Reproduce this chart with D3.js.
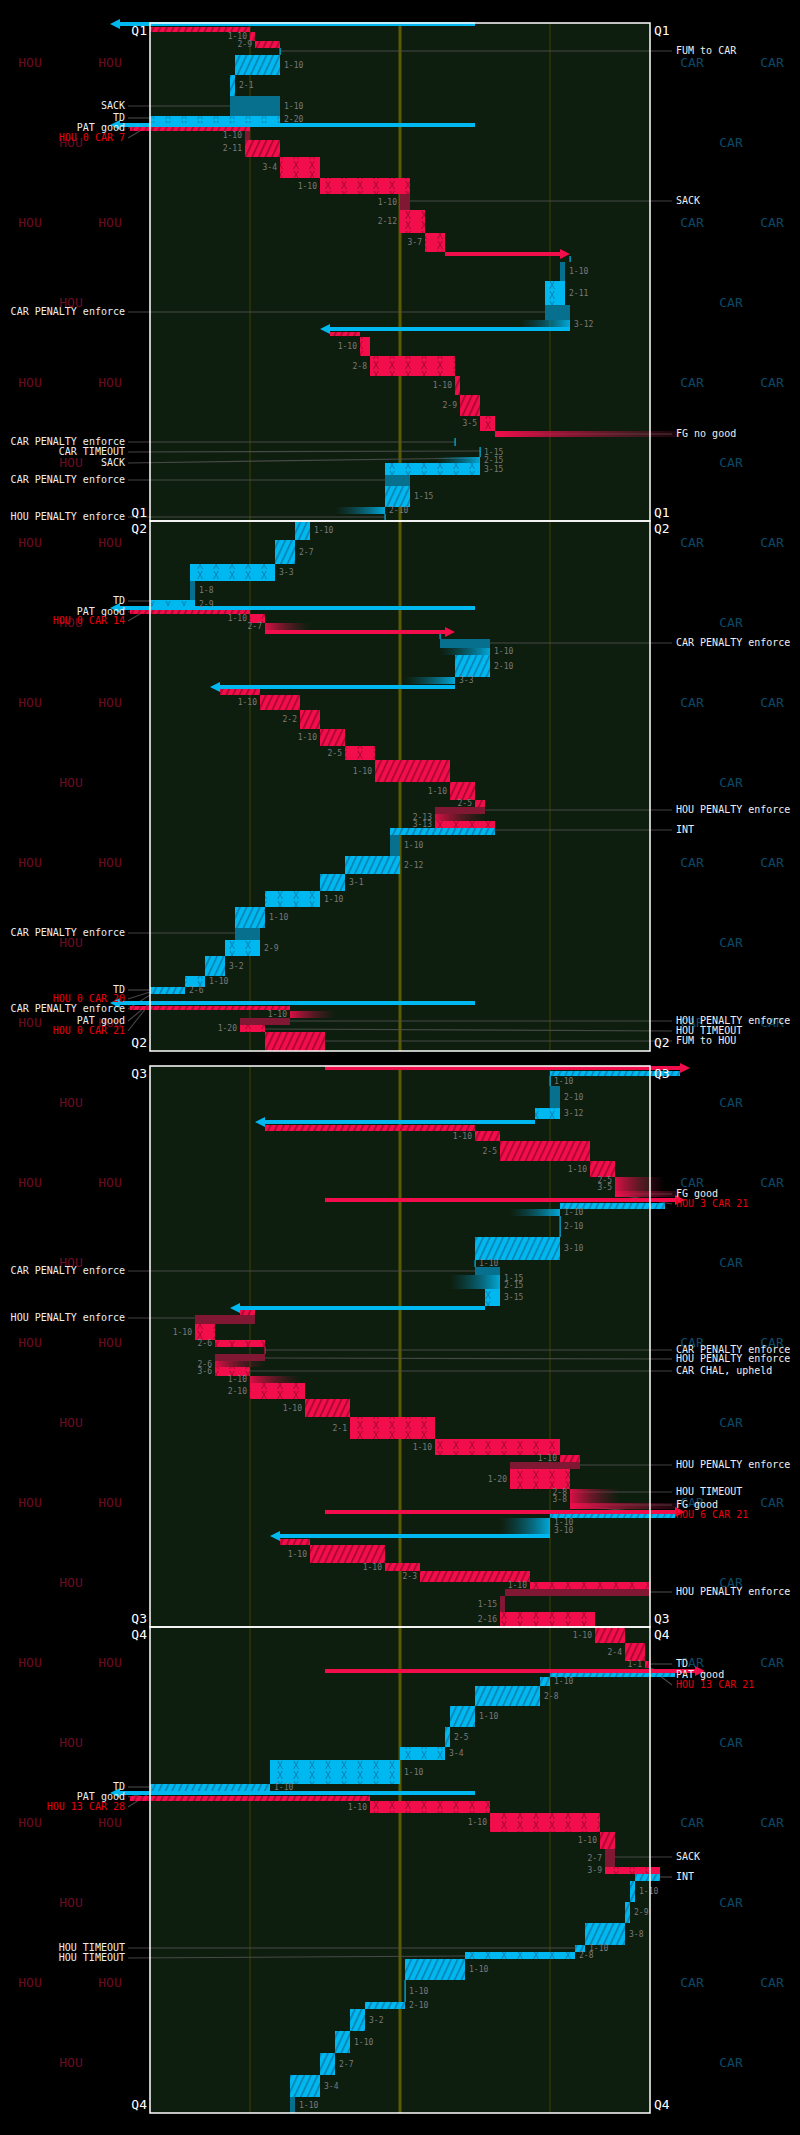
<!DOCTYPE html>
<html>
<head>
<meta charset="utf-8">
<script src="https://cdn.jsdelivr.net/npm/d3@7"></script>
<style>
  body { margin: 0; background: #000; }
  text { font-family: "DejaVu Sans Mono", monospace; }
</style>
</head>
<body>
<svg id="chart" width="800" height="2135"></svg>
<script>
// quarters: name, top, bottom (in chart time units)
const quarters = [["Q1", 23, 521], ["Q2", 521, 1051], ["Q3", 1066, 1627], ["Q4", 1627, 2113]];
const yardLines = [20, 50, 80];

// plays: team, t0, t1, from yard, to yard, kind, down label
// kinds: h run, x pass, d loss/penalty, f incomplete, l no gain, r return
const plays = [
  ["H",27,32,0,20,"r",""],["H",32,41,20,21,"h","1-10"],["H",41,48,21,26,"h","2-9"],
  ["C",48,55,26,26,"l",""],["C",55,75,26,17,"h","1-10"],["C",75,96,17,16,"h","2-1"],
  ["C",96,116,16,26,"d","1-10"],["C",116,123,26,0,"x","2-20"],
  ["H",127,131,-4,20,"r",""],["H",131,140,20,19,"d","1-10"],["H",140,157,19,26,"h","2-11"],
  ["H",157,178,26,34,"x","3-4"],["H",178,194,34,52,"x","1-10"],["H",194,210,52,50,"d","1-10"],
  ["H",210,233,50,55,"x","2-12"],["H",233,252,55,59,"x","3-7"],
  ["C",256,262,84,84,"l",""],["C",262,281,83,82,"d","1-10"],["C",281,305,83,79,"x","2-11"],
  ["C",305,320,79,84,"d",""],["C",320,329,84,74,"f","3-12"],
  ["H",332,336,36,42,"r",""],["H",337,356,42,44,"x","1-10"],["H",356,376,44,61,"x","2-8"],
  ["H",376,395,61,62,"h","1-10"],["H",395,416,62,66,"h","2-9"],["H",416,431,66,69,"x","3-5"],
  ["C",438,446,61,61,"l",""],["C",447,457,66,66,"l","1-15"],["C",457,463,66,57,"f","2-15"],
  ["C",463,475,66,47,"x","3-15"],["C",475,486,47,52,"d",""],["C",486,507,52,47,"h","1-15"],
  ["C",507,514,47,37,"f","2-10"],["C",514,521,47,47,"l",""],
  ["C",521,540,32,29,"h","1-10"],["C",540,564,29,25,"h","2-7"],["C",564,581,25,8,"x","3-3"],
  ["C",581,600,8,9,"d","1-8"],["C",600,608,9,0,"x","2-9"],
  ["H",610,614,-4,20,"r",""],["H",614,623,20,23,"x","1-10"],["H",623,630,23,32,"f","2-7"],
  ["C",632,639,58,58,"l",""],["C",639,648,58,68,"d",""],["C",648,655,68,58,"f","1-10"],
  ["C",655,677,68,61,"h","2-10"],["C",677,684,61,51,"f","3-3"],
  ["H",688,695,14,22,"r",""],["H",695,710,22,30,"h","1-10"],["H",710,729,30,34,"h","2-2"],
  ["H",729,746,34,39,"h","1-10"],["H",746,760,39,45,"x","2-5"],["H",760,782,45,60,"h","1-10"],
  ["H",782,800,60,65,"h","1-10"],["H",800,807,65,67,"h","2-5"],["H",807,814,67,57,"d",""],
  ["H",814,821,57,67,"f","2-13"],["H",821,828,57,69,"x","3-13"],
  ["C",828,835,69,48,"r",""],["C",835,856,48,50,"d","1-10"],["C",856,874,50,39,"h","2-12"],
  ["C",874,891,39,34,"h","3-1"],["C",891,907,34,23,"x","1-10"],["C",907,928,23,17,"h","1-10"],
  ["C",928,940,17,22,"d",""],["C",940,956,22,15,"x","2-9"],["C",956,976,15,11,"h","3-2"],
  ["C",976,987,11,7,"x","1-10"],["C",987,994,7,0,"h","2-6"],
  ["H",1006,1010,-4,28,"r",""],["H",1011,1018,28,37,"f","1-10"],["H",1018,1025,28,18,"d",""],
  ["H",1025,1032,18,23,"x","1-20"],["H",1032,1051,23,35,"h",""],
  ["C",1071,1076,106,80,"r",""],["C",1076,1086,80,80,"l","1-10"],["C",1086,1108,80,82,"d","2-10"],
  ["C",1108,1119,82,77,"x","3-12"],
  ["H",1125,1131,23,65,"r",""],["H",1131,1141,65,70,"h","1-10"],["H",1141,1161,70,88,"h","2-5"],
  ["H",1161,1177,88,93,"h","1-10"],["H",1177,1184,93,103,"f","2-5"],["H",1184,1191,93,103,"f","3-5"],
  ["C",1203,1209,103,82,"r",""],["C",1209,1216,82,72,"f","1-10"],["C",1216,1237,82,82,"l","2-10"],
  ["C",1237,1260,82,65,"h","3-10"],["C",1260,1267,65,65,"l","1-10"],["C",1267,1275,65,70,"d",""],
  ["C",1275,1282,70,60,"f","1-15"],["C",1282,1289,70,60,"f","2-15"],["C",1289,1306,70,67,"x","3-15"],
  ["H",1310,1315,18,21,"r",""],["H",1315,1324,21,9,"d",""],["H",1324,1340,9,13,"x","1-10"],
  ["H",1340,1347,13,23,"x","2-6"],["H",1347,1354,23,23,"l",""],["H",1354,1361,23,13,"d",""],
  ["H",1361,1367,13,23,"f","2-6"],["H",1367,1376,13,20,"x","3-6"],["H",1376,1383,20,30,"f","1-10"],
  ["H",1383,1399,20,31,"x","2-10"],["H",1399,1417,31,40,"h","1-10"],["H",1417,1439,40,57,"x","2-1"],
  ["H",1439,1455,57,82,"x","1-10"],["H",1455,1462,82,86,"h","1-10"],["H",1462,1469,86,72,"d",""],
  ["H",1469,1489,72,84,"x","1-20"],["H",1489,1496,84,94,"f","2-8"],["H",1496,1503,84,94,"f","3-8"],
  ["C",1514,1518,105,80,"r",""],["C",1518,1526,80,70,"f","1-10"],["C",1526,1534,80,70,"f","3-10"],
  ["H",1539,1545,26,32,"r",""],["H",1545,1563,32,47,"h","1-10"],["H",1563,1571,47,54,"h","1-10"],
  ["H",1571,1582,54,76,"h","2-3"],["H",1582,1589,76,100,"x","1-10"],["H",1589,1596,100,71,"d",""],
  ["H",1596,1612,71,70,"d","1-15"],["H",1612,1627,70,89,"x","2-16"],
  ["H",1627,1643,89,95,"h","1-10"],["H",1643,1661,95,99,"h","2-4"],["H",1661,1668,99,100,"h","1-1"],
  ["C",1673,1677,105,80,"r",""],["C",1677,1686,80,78,"h","1-10"],["C",1686,1706,78,65,"h","2-8"],
  ["C",1706,1727,65,60,"h","1-10"],["C",1727,1747,60,59,"h","2-5"],["C",1747,1760,59,50,"x","3-4"],
  ["C",1760,1784,50,24,"x","1-10"],["C",1784,1791,24,0,"h","1-10"],
  ["H",1796,1801,-4,44,"r",""],["H",1801,1813,44,68,"x","1-10"],["H",1813,1832,68,90,"x","1-10"],
  ["H",1832,1849,90,93,"h","1-10"],["H",1849,1867,93,91,"d","2-7"],["H",1867,1874,91,102,"x","3-9"],
  ["C",1874,1881,102,97,"r",""],["C",1881,1902,97,96,"h","1-10"],["C",1902,1923,96,95,"h","2-9"],
  ["C",1923,1945,95,87,"h","3-8"],["C",1945,1952,87,85,"h","1-10"],["C",1952,1959,85,63,"x","2-8"],
  ["C",1959,1980,63,51,"h","1-10"],["C",1980,2002,51,51,"l","1-10"],["C",2002,2009,51,43,"h","2-10"],
  ["C",2009,2031,43,40,"h","3-2"],["C",2031,2053,40,37,"h","1-10"],["C",2053,2075,37,34,"h","2-7"],
  ["C",2075,2097,34,28,"h","3-4"],["C",2097,2113,28,29,"d","1-10"]
];

// kicks (kickoffs and punts): team, t, from yard, to yard
const kicks = [
  ["C",24,65,-8],["C",125,65,-8],["H",254,59,84],["C",329,84,34],["C",608,65,-8],
  ["H",632,23,61],["C",687,61,12],["C",1003,65,-8],["H",1068,35,108],["C",1122,77,21],
  ["H",1200,35,107],["C",1308,67,16],["H",1512,35,107],["C",1536,80,24],["H",1671,35,111],
  ["C",1793,65,-8]
];

// field goal tries: t0, t1, from yard
const fieldGoals = [[431,437,69],[1191,1197,93],[1503,1509,84]];

// notes: side, t, text, colour, target yard, target t
const notes = [
  ["L",106,"SACK","w",16,106],["L",118,"TD","w",0,118],["L",128,"PAT good","w",0,125],
  ["L",138,"HOU 0 CAR 7","r",0,125],["L",312,"CAR PENALTY enforce","w",79,312],
  ["L",442,"CAR PENALTY enforce","w",61,442],["L",452,"CAR TIMEOUT","w",66,451],
  ["L",463,"SACK","w",66,458],["L",480,"CAR PENALTY enforce","w",47,480],
  ["L",517,"HOU PENALTY enforce","w",47,517],["L",601,"TD","w",0,601],
  ["L",612,"PAT good","w",0,608],["L",621,"HOU 0 CAR 14","r",0,608],
  ["L",933,"CAR PENALTY enforce","w",17,933],["L",990,"TD","w",0,990],
  ["L",999,"HOU 0 CAR 20","r",0,992],["L",1009,"CAR PENALTY enforce","w",0,995],
  ["L",1021,"PAT good","w",0,1003],["L",1031,"HOU 0 CAR 21","r",0,1003],
  ["L",1271,"CAR PENALTY enforce","w",65,1271],["L",1318,"HOU PENALTY enforce","w",9,1318],
  ["L",1787,"TD","w",0,1787],["L",1797,"PAT good","w",0,1793],["L",1807,"HOU 13 CAR 28","r",0,1793],
  ["L",1948,"HOU TIMEOUT","w",85,1948],["L",1958,"HOU TIMEOUT","w",63,1956],
  ["R",51,"FUM to CAR","w",26,51],["R",201,"SACK","w",52,201],["R",434,"FG no good","w",69,434],
  ["R",643,"CAR PENALTY enforce","w",58,643],["R",810,"HOU PENALTY enforce","w",67,810],
  ["R",830,"INT","w",69,830],["R",1021,"HOU PENALTY enforce","w",28,1021],
  ["R",1031,"HOU TIMEOUT","w",23,1029],["R",1041,"FUM to HOU","w",35,1041],
  ["R",1194,"FG good","w",93,1194],["R",1204,"HOU 3 CAR 21","r",93,1194],
  ["R",1350,"CAR PENALTY enforce","w",23,1350],["R",1359,"HOU PENALTY enforce","w",23,1358],
  ["R",1371,"CAR CHAL, upheld","w",20,1371],["R",1465,"HOU PENALTY enforce","w",86,1465],
  ["R",1492,"HOU TIMEOUT","w",84,1492],["R",1505,"FG good","w",84,1505],
  ["R",1515,"HOU 6 CAR 21","r",84,1505],["R",1592,"HOU PENALTY enforce","w",100,1592],
  ["R",1664,"TD","w",100,1664],["R",1675,"PAT good","w",100,1668],
  ["R",1685,"HOU 13 CAR 21","r",100,1668],["R",1857,"SACK","w",93,1857],["R",1877,"INT","w",102,1877]
];

// background team name rows
const teamRowsDouble = [63, 223, 383, 543, 703, 863, 1023, 1183, 1343, 1503, 1663, 1823, 1983];
const teamRowsSingle = [143, 303, 463, 623, 783, 943, 1103, 1263, 1423, 1583, 1743, 1903, 2063];

const col = {
  H: { main: "#f20d4b", dark: "#801733", stripe: "#a3062e" },
  C: { main: "#00b8f0", dark: "#07708f", stripe: "#0a7fae" }
};

const svg = d3.select("#chart");
const x = d3.scaleLinear().domain([0, 100]).range([150, 650]);
const y = d3.scaleLinear().domain([0, 2135]).range([0, 2135]);

const defs = svg.append("defs");
Object.entries(col).forEach(([k, c]) => {
  const h = defs.append("pattern").attr("id", "hatch" + k).attr("patternUnits", "userSpaceOnUse")
    .attr("width", 6).attr("height", 6).attr("patternTransform", "rotate(25)");
  h.append("rect").attr("width", 6).attr("height", 6).attr("fill", c.main);
  h.append("rect").attr("width", 1.6).attr("height", 6).attr("fill", c.stripe);
  const p = defs.append("pattern").attr("id", "cross" + k).attr("patternUnits", "userSpaceOnUse")
    .attr("width", 16).attr("height", 10);
  p.append("rect").attr("width", 16).attr("height", 10).attr("fill", c.main);
  p.append("text").attr("x", 8).attr("y", 9).attr("text-anchor", "middle")
    .attr("font-size", 10).attr("fill", c.stripe).text("X");
  [["fadeR" + k, 0, 1], ["fadeL" + k, 1, 0]].forEach(([id, a, b]) => {
    const g = defs.append("linearGradient").attr("id", id).attr("x1", a).attr("x2", b).attr("y1", 0).attr("y2", 0);
    g.append("stop").attr("offset", 0).attr("stop-color", c.main).attr("stop-opacity", 0.9);
    g.append("stop").attr("offset", 1).attr("stop-color", c.dark).attr("stop-opacity", 0);
  });
});

// background team labels
const bg = svg.append("g").attr("font-size", 13).attr("text-anchor", "middle").attr("dominant-baseline", "middle");
teamRowsDouble.forEach(t => {
  [30, 110].forEach(px => bg.append("text").attr("x", px).attr("y", y(t)).attr("fill", "#6e0a22").text("HOU"));
  [692, 772].forEach(px => bg.append("text").attr("x", px).attr("y", y(t)).attr("fill", "#0b4a66").text("CAR"));
});
teamRowsSingle.forEach(t => {
  bg.append("text").attr("x", 71).attr("y", y(t)).attr("fill", "#6e0a22").text("HOU");
  bg.append("text").attr("x", 731).attr("y", y(t)).attr("fill", "#0b4a66").text("CAR");
});

// field per quarter
const field = svg.append("g");
quarters.forEach(([q, t0, t1]) => {
  field.append("rect").attr("x", x(0)).attr("y", y(t0)).attr("width", x(100) - x(0))
    .attr("height", y(t1) - y(t0)).attr("fill", "#0e1e0e");
  yardLines.forEach(yd => field.append("line").attr("x1", x(yd)).attr("x2", x(yd))
    .attr("y1", y(t0)).attr("y2", y(t1)).attr("stroke", yd === 50 ? "#5c5a00" : "#3e4000")
    .attr("stroke-width", yd === 50 ? 3 : 1));
});

// leader lines
const lead = svg.append("g").attr("stroke", "#555").attr("stroke-width", 1.2).attr("opacity", 0.8);
notes.forEach(([side, t, txt, c, yd, tt]) => {
  if (side === "L") lead.append("line").attr("x1", 128).attr("y1", y(t)).attr("x2", x(yd)).attr("y2", y(tt));
  else lead.append("line").attr("x1", x(yd)).attr("y1", y(tt)).attr("x2", 672).attr("y2", y(t));
});

// plays
const pg = svg.append("g");
const lab = svg.append("g").attr("font-size", 8).attr("fill", "#7a7a7a").attr("dominant-baseline", "middle");
plays.forEach(([team, t0, t1, a, b, kind, label]) => {
  const c = col[team];
  const x0 = x(Math.min(a, b)), x1 = x(Math.max(a, b));
  const yy = y(t0), hh = y(t1) - y(t0);
  if (kind === "l") {
    pg.append("rect").attr("x", x(a) - 0.5).attr("y", yy).attr("width", 1.2).attr("height", hh).attr("fill", c.main);
  } else {
    let fill;
    if (kind === "h" || kind === "r") fill = `url(#hatch${team})`;
    else if (kind === "x") fill = `url(#cross${team})`;
    else if (kind === "d") fill = c.dark;
    else fill = `url(#${a < b ? "fadeR" : "fadeL"}${team})`;
    pg.append("rect").attr("x", x0).attr("y", yy).attr("width", Math.max(x1 - x0, 1)).attr("height", hh).attr("fill", fill);
  }
  if (label) {
    if (team === "H") lab.append("text").attr("x", x0 - 3).attr("y", yy + hh / 2).attr("text-anchor", "end").text(label);
    else lab.append("text").attr("x", x1 + 4).attr("y", yy + hh / 2).text(label);
  }
});

// field goals
fieldGoals.forEach(([t0, t1, yd]) => {
  const g = defs.append("linearGradient").attr("id", "fg" + t0).attr("gradientUnits", "userSpaceOnUse")
    .attr("x1", x(yd)).attr("x2", 680).attr("y1", 0).attr("y2", 0);
  g.append("stop").attr("offset", 0).attr("stop-color", col.H.main);
  g.append("stop").attr("offset", 1).attr("stop-color", col.H.dark).attr("stop-opacity", 0.2);
  pg.append("rect").attr("x", x(yd)).attr("y", y(t0)).attr("width", 680 - x(yd)).attr("height", y(t1) - y(t0))
    .attr("fill", `url(#fg${t0})`);
});

// kick arrows
kicks.forEach(([team, t, a, b]) => {
  const dir = b > a ? 1 : -1, tip = x(b), base = tip - dir * 10, cy = y(t);
  pg.append("rect").attr("x", Math.min(x(a), base)).attr("y", cy - 2).attr("width", Math.abs(base - x(a))).attr("height", 4)
    .attr("fill", col[team].main);
  pg.append("path").attr("d", `M${base},${cy - 5}L${tip},${cy}L${base},${cy + 5}Z`).attr("fill", col[team].main);
});

// quarter borders and labels
const qg = svg.append("g").attr("font-size", 13).attr("fill", "#fff").attr("dominant-baseline", "middle");
quarters.forEach(([q, t0, t1]) => {
  qg.append("rect").attr("x", x(0)).attr("y", y(t0)).attr("width", x(100) - x(0)).attr("height", y(t1) - y(t0))
    .attr("fill", "none").attr("stroke", "#fff").attr("stroke-width", 1.5);
  [[t0 + 8], [t1 - 8]].forEach(([t]) => {
    qg.append("text").attr("x", x(0) - 3).attr("y", y(t)).attr("text-anchor", "end").text(q);
    qg.append("text").attr("x", x(100) + 4).attr("y", y(t)).text(q);
  });
});

// notes text
const ng = svg.append("g").attr("font-size", 10).attr("dominant-baseline", "middle");
notes.forEach(([side, t, txt, c]) => {
  ng.append("text").attr("x", side === "L" ? 125 : 676).attr("y", y(t))
    .attr("text-anchor", side === "L" ? "end" : "start")
    .attr("fill", c === "r" ? "#e8000b" : "#eee").text(txt);
});
</script>
</body>
</html>
